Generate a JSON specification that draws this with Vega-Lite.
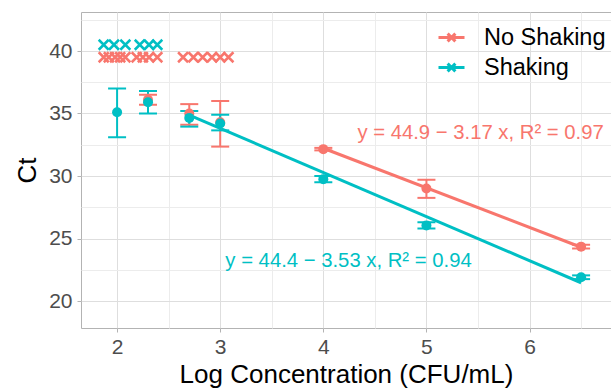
{
  "$schema": "https://vega.github.io/schema/vega-lite/v6.json",
  "width": 530,
  "height": 316,
  "autosize": "none",
  "padding": {"left": 81, "top": 12, "right": 0, "bottom": 60},
  "background": "white",
  "config": {
    "font": "Liberation Sans",
    "view": {"stroke": "#b3b3b3", "strokeWidth": 1},
    "axis": {
      "domain": false,
      "labelFontSize": 21,
      "labelColor": "#4d4d4d",
      "labelFont": "Liberation Sans",
      "titleFont": "Liberation Sans",
      "titleFontSize": 26,
      "titleFontWeight": "normal",
      "titleColor": "#000000",
      "tickColor": "#b3b3b3",
      "tickSize": 4,
      "gridWidth": 1
    }
  },
  "datasets": {
    "nd": [
      {"series": "No Shaking", "x": 1.87, "ct": 39.5},
      {"series": "No Shaking", "x": 1.92, "ct": 39.5},
      {"series": "No Shaking", "x": 1.98, "ct": 39.5},
      {"series": "No Shaking", "x": 2.03, "ct": 39.5},
      {"series": "No Shaking", "x": 2.08, "ct": 39.5},
      {"series": "No Shaking", "x": 2.19, "ct": 39.5},
      {"series": "No Shaking", "x": 2.25, "ct": 39.5},
      {"series": "No Shaking", "x": 2.31, "ct": 39.5},
      {"series": "No Shaking", "x": 2.39, "ct": 39.5},
      {"series": "No Shaking", "x": 2.64, "ct": 39.5},
      {"series": "No Shaking", "x": 2.74, "ct": 39.5},
      {"series": "No Shaking", "x": 2.83, "ct": 39.5},
      {"series": "No Shaking", "x": 2.92, "ct": 39.5},
      {"series": "No Shaking", "x": 3.0, "ct": 39.5},
      {"series": "No Shaking", "x": 3.08, "ct": 39.5},
      {"series": "Shaking", "x": 1.87, "ct": 40.5},
      {"series": "Shaking", "x": 1.97, "ct": 40.5},
      {"series": "Shaking", "x": 2.08, "ct": 40.5},
      {"series": "Shaking", "x": 2.22, "ct": 40.5},
      {"series": "Shaking", "x": 2.31, "ct": 40.5},
      {"series": "Shaking", "x": 2.39, "ct": 40.5}
    ],
    "summ": [
      {"series": "No Shaking", "x": 2.3, "mean": 36.1, "lo": 35.7, "hi": 36.5},
      {"series": "No Shaking", "x": 2.7, "mean": 35.0, "lo": 34.1, "hi": 35.75},
      {"series": "No Shaking", "x": 3.0, "mean": 34.3, "lo": 32.35, "hi": 36.0},
      {"series": "No Shaking", "x": 4.0, "mean": 32.15, "lo": 32.05, "hi": 32.25},
      {"series": "No Shaking", "x": 5.0, "mean": 29.0, "lo": 28.25, "hi": 29.7},
      {"series": "No Shaking", "x": 6.5, "mean": 24.35, "lo": 24.2, "hi": 24.5},
      {"series": "Shaking", "x": 2.0, "mean": 35.1, "lo": 33.1, "hi": 37.0},
      {"series": "Shaking", "x": 2.3, "mean": 35.9, "lo": 35.0, "hi": 36.8},
      {"series": "Shaking", "x": 2.7, "mean": 34.65, "lo": 33.95, "hi": 35.2},
      {"series": "Shaking", "x": 3.0, "mean": 34.2, "lo": 33.65, "hi": 34.9},
      {"series": "Shaking", "x": 4.0, "mean": 29.75, "lo": 29.5, "hi": 30.0},
      {"series": "Shaking", "x": 5.0, "mean": 26.05, "lo": 25.8, "hi": 26.3},
      {"series": "Shaking", "x": 6.5, "mean": 21.9, "lo": 21.75, "hi": 22.05}
    ],
    "fit": [
      {"series": "No Shaking", "x": 4.0, "ct": 32.22},
      {"series": "No Shaking", "x": 6.5, "ct": 24.3},
      {"series": "Shaking", "x": 2.7, "ct": 34.87},
      {"series": "Shaking", "x": 6.5, "ct": 21.46}
    ],
    "eq": [
      {"series": "No Shaking", "label": "y = 44.9 − 3.17 x, R² = 0.97", "x": 6.72, "y": 33.45},
      {"series": "Shaking", "label": "y = 44.4 − 3.53 x, R² = 0.94", "x": 3.05, "y": 23.2}
    ]
  },
  "encoding": {
    "x": {
      "type": "quantitative",
      "scale": {"domain": [1.65, 6.79], "nice": false, "zero": false},
      "axis": {
        "title": "Log Concentration (CFU/mL)",
        "values": [2, 2.5, 3, 3.5, 4, 4.5, 5, 5.5, 6, 6.5],
        "labelExpr": "datum.value % 1 === 0 ? format(datum.value, 'd') : ''",
        "gridColor": {"condition": {"test": "datum.value % 1 === 0", "value": "#dedede"}, "value": "#ececec"},
        "tickOpacity": {"condition": {"test": "datum.value % 1 === 0", "value": 1}, "value": 0},
        "labelPadding": 4,
        "titlePadding": 4
      }
    },
    "y": {
      "type": "quantitative",
      "scale": {"domain": [17.84, 43.12], "nice": false, "zero": false},
      "axis": {
        "title": "Ct",
        "values": [20, 22.5, 25, 27.5, 30, 32.5, 35, 37.5, 40, 42.5],
        "labelExpr": "datum.value % 5 === 0 ? format(datum.value, 'd') : ''",
        "gridColor": {"condition": {"test": "datum.value % 5 === 0", "value": "#dedede"}, "value": "#ececec"},
        "tickOpacity": {"condition": {"test": "datum.value % 5 === 0", "value": 1}, "value": 0},
        "labelPadding": 5,
        "titlePadding": 8
      }
    },
    "color": {
      "field": "series",
      "type": "nominal",
      "scale": {"domain": ["No Shaking", "Shaking"], "range": ["#F8766D", "#00BFC4"]},
      "legend": {
        "title": null,
        "orient": "none",
        "legendX": 356,
        "legendY": 11,
        "labelFontSize": 23.5,
        "labelColor": "#000000",
        "labelFont": "Liberation Sans",
        "symbolType": "M-1,0H1M-0.3,-0.3L0.3,0.3M-0.3,0.3L0.3,-0.3",
        "symbolSize": 676,
        "symbolStrokeWidth": 3,
        "labelOffset": 18,
        "rowPadding": 4
      }
    }
  },
  "layer": [
    {
      "data": {"name": "nd"},
      "mark": {"type": "point", "shape": "M-1,-1L1,1M-1,1L1,-1", "filled": false, "size": 100, "strokeWidth": 2.5, "opacity": 1},
      "encoding": {"x": {"field": "x"}, "y": {"field": "ct"}}
    },
    {
      "data": {"name": "fit"},
      "mark": {"type": "line", "strokeWidth": 3},
      "encoding": {"x": {"field": "x"}, "y": {"field": "ct"}}
    },
    {
      "data": {"name": "summ"},
      "mark": {"type": "rule", "strokeWidth": 2},
      "encoding": {"x": {"field": "x"}, "y": {"field": "lo"}, "y2": {"field": "hi"}}
    },
    {
      "data": {"name": "summ"},
      "mark": {"type": "tick", "orient": "horizontal", "size": 18, "thickness": 2, "opacity": 1},
      "encoding": {"x": {"field": "x"}, "y": {"field": "lo"}}
    },
    {
      "data": {"name": "summ"},
      "mark": {"type": "tick", "orient": "horizontal", "size": 18, "thickness": 2, "opacity": 1},
      "encoding": {"x": {"field": "x"}, "y": {"field": "hi"}}
    },
    {
      "data": {"name": "summ"},
      "mark": {"type": "circle", "size": 100, "opacity": 1},
      "encoding": {"x": {"field": "x"}, "y": {"field": "mean"}}
    },
    {
      "data": {"name": "eq"},
      "transform": [{"filter": "datum.series === 'No Shaking'"}],
      "mark": {"type": "text", "align": "right", "baseline": "middle", "fontSize": 20.3, "font": "Liberation Sans"},
      "encoding": {"x": {"field": "x"}, "y": {"field": "y"}, "text": {"field": "label"}}
    },
    {
      "data": {"name": "eq"},
      "transform": [{"filter": "datum.series === 'Shaking'"}],
      "mark": {"type": "text", "align": "left", "baseline": "middle", "fontSize": 20.3, "font": "Liberation Sans"},
      "encoding": {"x": {"field": "x"}, "y": {"field": "y"}, "text": {"field": "label"}}
    }
  ]
}
